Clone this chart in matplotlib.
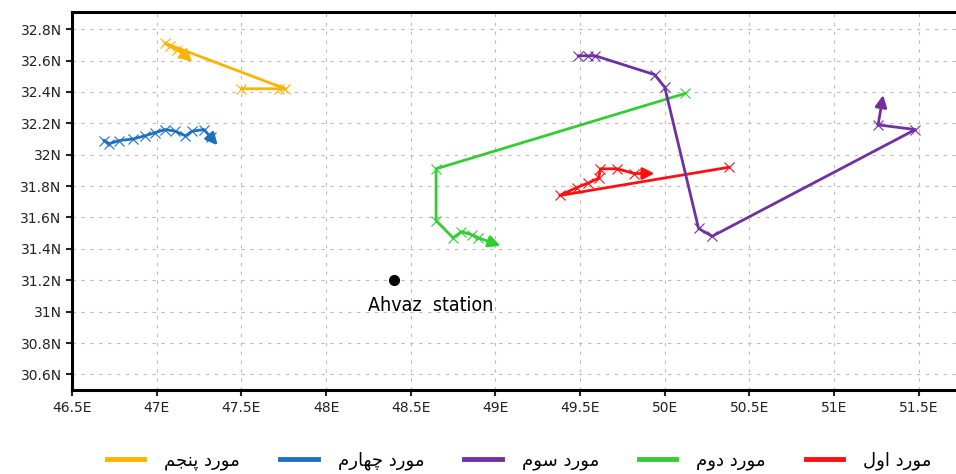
import numpy as np
import matplotlib
matplotlib.use("Agg")
import matplotlib.pyplot as plt
from matplotlib.lines import Line2D

# trajectory end points (lon, lat), arrow drawn on the last segment
case1_lon = [50.38, 49.38, 49.48, 49.55, 49.61, 49.62, 49.72, 49.82, 49.94]
case1_lat = [31.92, 31.74, 31.79, 31.82, 31.85, 31.91, 31.91, 31.88, 31.88]

case2_lon = [50.12, 48.65, 48.65, 48.75, 48.80, 48.86, 48.90, 49.03]
case2_lat = [32.39, 31.91, 31.58, 31.47, 31.51, 31.49, 31.47, 31.42]

case3_lon = [49.49, 49.55, 49.59, 49.94, 50.00, 50.20, 50.28, 51.48, 51.26, 51.29]
case3_lat = [32.63, 32.63, 32.63, 32.51, 32.43, 31.53, 31.48, 32.16, 32.19, 32.38]

case4_lon = [46.69, 46.72, 46.78, 46.86, 46.93, 46.99, 47.05, 47.11, 47.17, 47.21, 47.28, 47.32, 47.36]
case4_lat = [32.09, 32.07, 32.09, 32.10, 32.12, 32.14, 32.16, 32.15, 32.12, 32.15, 32.16, 32.11, 32.06]

case5_lon = [47.50, 47.72, 47.76, 47.05, 47.08, 47.12, 47.15, 47.21]
case5_lat = [32.42, 32.42, 32.42, 32.71, 32.69, 32.67, 32.65, 32.59]

station_lon, station_lat = 48.40, 31.20

labels = ["مورد اول", "مورد دوم", "مورد سوم", "مورد چهارم", "مورد پنجم"]
colors = ["#ff1010", "#33cc33", "#7030a0", "#1f6fc0", "#ffb300"]

x_ticks = np.arange(46.5, 51.51, 0.5)
y_ticks = np.arange(30.6, 32.81, 0.2)

# contextual forms: isolated, final, initial, medial
FORMS = {
    "ا": (0xFE8D, 0xFE8E, None, None),
    "د": (0xFEA9, 0xFEAA, None, None),
    "ر": (0xFEAD, 0xFEAE, None, None),
    "و": (0xFEED, 0xFEEE, None, None),
    "ل": (0xFEDD, 0xFEDE, 0xFEDF, 0xFEE0),
    "م": (0xFEE1, 0xFEE2, 0xFEE3, 0xFEE4),
    "ن": (0xFEE5, 0xFEE6, 0xFEE7, 0xFEE8),
    "ج": (0xFE9D, 0xFE9E, 0xFE9F, 0xFEA0),
    "ه": (0xFEE9, 0xFEEA, 0xFEEB, 0xFEEC),
    "س": (0xFEB1, 0xFEB2, 0xFEB3, 0xFEB4),
    "چ": (0xFB7A, 0xFB7B, 0xFB7C, 0xFB7D),
    "پ": (0xFB56, 0xFB57, 0xFB58, 0xFB59),
}


def shape(text):
    out = []
    for i, ch in enumerate(text):
        if ch not in FORMS:
            out.append(ch)
            continue
        prev = text[i - 1] if i > 0 else " "
        nxt = text[i + 1] if i + 1 < len(text) else " "
        joins_prev = prev in FORMS and FORMS[prev][2] is not None
        joins_next = nxt in FORMS and FORMS[ch][2] is not None
        iso, fin, ini, med = FORMS[ch]
        if joins_prev and joins_next:
            code = med
        elif joins_prev:
            code = fin
        elif joins_next:
            code = ini
        else:
            code = iso
        out.append(chr(code))
    return "".join(reversed(out))


def fmt_lon(v):
    return f"{v:g}E"


def fmt_lat(v):
    return f"{round(v, 1):g}N"


fig = plt.figure(figsize=(9.56, 4.74), dpi=100)
ax = fig.add_axes([0.0753, 0.177, 0.93, 0.798])

tracks = [
    (case1_lon, case1_lat),
    (case2_lon, case2_lat),
    (case3_lon, case3_lat),
    (case4_lon, case4_lat),
    (case5_lon, case5_lat),
]
for (lon, lat), c in zip(tracks, colors):
    ax.plot(lon[:-1], lat[:-1], color=c, lw=2.0, marker="x", ms=7,
            mec=c, mew=0.8, zorder=3)
    ax.annotate("", xy=(lon[-1], lat[-1]), xytext=(lon[-2], lat[-2]),
                arrowprops=dict(arrowstyle="-|>,head_length=0.7,head_width=0.35",
                                color=c, lw=2.0, shrinkA=0, shrinkB=0),
                zorder=3)

ax.plot(station_lon, station_lat, "o", color="black", ms=7, zorder=4)
ax.text(station_lon + 0.22, station_lat - 0.16, "Ahvaz  station",
        ha="center", va="center", fontsize=14,
        family=["Liberation Sans Narrow", "DejaVu Sans"], fontstretch="condensed")

ax.set_xlim(46.5, 51.75)
ax.set_ylim(30.5, 32.91)
ax.set_xticks(x_ticks)
ax.set_yticks(y_ticks)
ax.set_xticklabels([fmt_lon(v) for v in x_ticks])
ax.set_yticklabels([fmt_lat(v) for v in y_ticks])
ax.tick_params(labelsize=10, length=4, width=1.5, colors="#222222")
ax.grid(True, color="#bbbbbb", linestyle=(0, (3, 5)), lw=0.8)
for side in ["left", "bottom", "top"]:
    ax.spines[side].set_linewidth(2.2)
ax.spines["right"].set_visible(False)

# legend reads right to left
handles = [Line2D([], [], color=c, lw=3.5) for c in colors][::-1]
names = [shape(s) for s in labels][::-1]
fig.legend(handles, names, loc="lower center", bbox_to_anchor=(0.543, -0.025),
           ncol=5, frameon=False, handlelength=2.1, handletextpad=1.1,
           columnspacing=2.2, prop={"family": "DejaVu Sans", "size": 13})

fig.savefig("out.png", dpi=100)
